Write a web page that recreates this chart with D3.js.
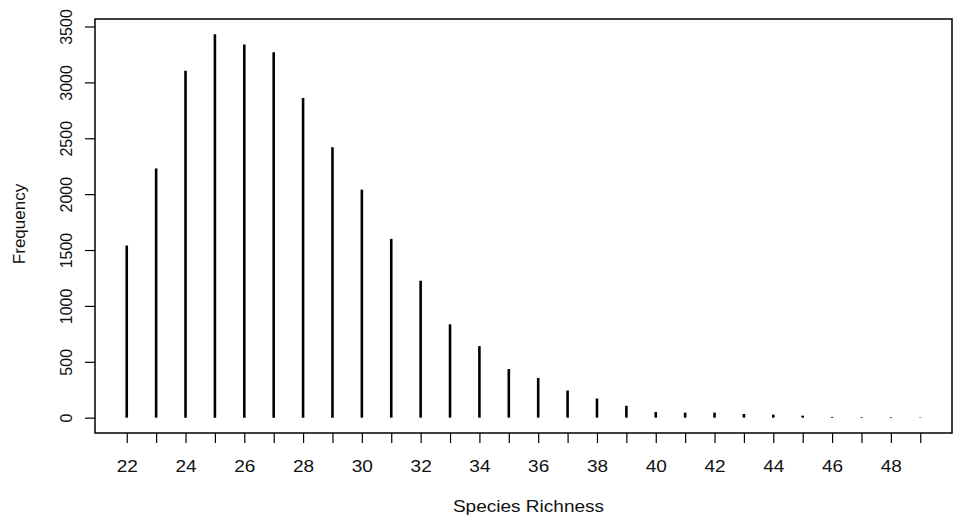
<!DOCTYPE html>
<html>
<head>
<meta charset="utf-8">
<script src="https://cdn.jsdelivr.net/npm/d3@7"></script>
<style>
  body { margin: 0; background: #fff; }
  text { font-family: "Liberation Sans", Arial, sans-serif; fill: #111; }
</style>
</head>
<body>
<div id="chart"></div>
<script>
// species richness values and how often each one occurred
const richness = [22, 23, 24, 25, 26, 27, 28, 29, 30, 31, 32, 33, 34, 35,
                  36, 37, 38, 39, 40, 41, 42, 43, 44, 45, 46, 47, 48, 49];
const frequency = [1540, 2230, 3105, 3430, 3340, 3270, 2860, 2420, 2040, 1600, 1225, 835, 640, 435,
                   355, 243, 171, 106, 50, 45, 45, 33, 27, 18, 7, 5, 5, 3];
const yTicks = [0, 500, 1000, 1500, 2000, 2500, 3000, 3500];

const W = 958, H = 519;
const margin = {top: 19, right: 6, bottom: 86, left: 95};
const width = W - margin.left - margin.right,
      height = H - margin.top - margin.bottom;

const svg = d3.select("#chart")
  .append("svg")
    .attr("width", W)
    .attr("height", H)
  .append("g")
    .attr("transform", "translate(" + margin.left + "," + margin.top + ")");

// R style 4% padding on both axes
const xMin = d3.min(richness), xMax = d3.max(richness);
const xPad = (xMax - xMin) * 0.04;
const x = d3.scaleLinear()
  .domain([xMin - xPad, xMax + xPad])
  .range([0, width]);

const yMax = d3.max(frequency);
const yPad = yMax * 0.04;
const y = d3.scaleLinear()
  .domain([-yPad, yMax + yPad])
  .range([height, 0]);

// the vertical "h" lines
svg.selectAll(".spike")
  .data(richness)
  .join("line")
    .attr("class", "spike")
    .attr("x1", d => x(d))
    .attr("x2", d => x(d))
    .attr("y1", y(0))
    .attr("y2", (d, i) => y(frequency[i]))
    .style("stroke", "#000")
    .style("stroke-width", 2.6);

// x axis: tick at every value, label at the even ones
const xAxis = svg.append("g")
  .attr("transform", "translate(0," + height + ")")
  .call(d3.axisBottom(x)
    .tickValues(richness)
    .tickSize(10)
    .tickPadding(17)
    .tickFormat(d => d % 2 === 0 ? d : ""));
xAxis.select(".domain").remove();
xAxis.selectAll("line").style("stroke", "#000").style("stroke-width", 1.2);
xAxis.selectAll("text")
  .style("font-size", "17px")
  .style("fill", "#111")
  .attr("transform", "scale(1.12,1)");

// y axis with rotated labels
const yAxis = svg.append("g")
  .call(d3.axisLeft(y)
    .tickValues(yTicks)
    .tickSize(10)
    .tickFormat(d3.format("d")));
yAxis.select(".domain").remove();
yAxis.selectAll("line").style("stroke", "#000").style("stroke-width", 1.2);
yAxis.selectAll("text")
  .style("font-size", "16px")
  .style("fill", "#111")
  .attr("text-anchor", "middle")
  .attr("dy", null)
  .attr("x", null)
  .attr("transform", "translate(-23,0) rotate(-90)");

// frame
svg.append("rect")
  .attr("width", width)
  .attr("height", height)
  .style("fill", "none")
  .style("stroke", "#000")
  .style("stroke-width", 1.5);

// axis titles
svg.append("text")
  .attr("transform", "translate(" + (width / 2 + 5) + "," + (height + 79) + ") scale(1.12,1)")
  .attr("text-anchor", "middle")
  .style("font-size", "17px")
  .text("Species Richness");

svg.append("text")
  .attr("transform", "translate(" + (-70) + "," + (height / 2 - 2) + ") rotate(-90)")
  .attr("text-anchor", "middle")
  .style("font-size", "17px")
  .text("Frequency");
</script>
</body>
</html>
